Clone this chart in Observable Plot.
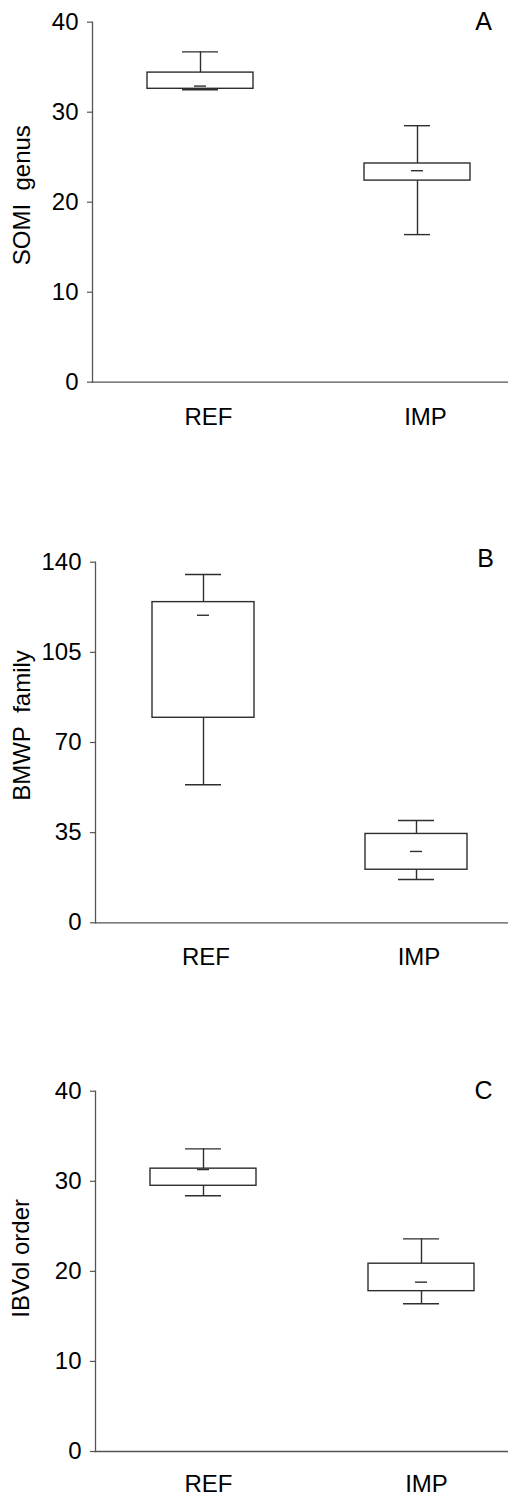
<!DOCTYPE html>
<html>
<head>
<meta charset="utf-8">
<script src="https://cdn.jsdelivr.net/npm/d3@7"></script>
<script src="https://cdn.jsdelivr.net/npm/@observablehq/plot@0.6"></script>
<style>
  html, body { margin: 0; padding: 0; background: #fff; }
  #wrap { position: relative; width: 508px; height: 1498px; overflow: hidden; }
  .panel { position: absolute; left: 0; }
  svg { font-family: "Liberation Sans", Arial, sans-serif; }
</style>
</head>
<body>
<div id="wrap"></div>
<script>
// ---- data ----
const groups = ["REF", "IMP"];

// Panel A: SOMI genus
const lowA  = [32.5, 16.4];
const q1A   = [32.6, 22.4];
const medA  = [32.9, 23.5];
const q3A   = [34.4, 24.3];
const highA = [36.7, 28.5];
const ticksA = [0, 10, 20, 30, 40];

// Panel B: BMWP family
const lowB  = [53.6, 16.8];
const q1B   = [79.6, 20.6];
const medB  = [119.4, 27.7];
const q3B   = [124.5, 34.5];
const highB = [135.2, 39.7];
const ticksB = [0, 35, 70, 105, 140];

// Panel C: IBVol order
const lowC  = [28.4, 16.4];
const q1C   = [29.5, 17.8];
const medC  = [31.3, 18.8];
const q3C   = [31.4, 20.85];
const highC = [33.6, 23.6];
const ticksC = [0, 10, 20, 30, 40];

const ink = "#2e2e2e";
const axisInk = "#555";

function table(low, q1, med, q3, high) {
  return groups.map((g, i) => ({g, low: low[i], q1: q1[i], med: med[i], q3: q3[i], high: high[i]}));
}

function panel(o) {
  const data = table(o.low, o.q1, o.med, o.q3, o.high);
  const capMarks = groups.flatMap((g, i) => [
    Plot.tickY(data.filter(d => d.g === g), {x: "g", y: "low", stroke: ink, strokeWidth: 1.4, insetLeft: o.capInset[i], insetRight: o.capInset[i]}),
    Plot.tickY(data.filter(d => d.g === g), {x: "g", y: "high", stroke: ink, strokeWidth: 1.4, insetLeft: o.capInset[i], insetRight: o.capInset[i]})
  ]);
  return Plot.plot({
    width: 508,
    height: o.height,
    marginTop: o.mt,
    marginBottom: o.mb,
    marginLeft: o.ml,
    marginRight: 0,
    style: {fontFamily: "'Liberation Sans', Arial, sans-serif", color: "#000", background: "#fff", overflow: "visible"},
    x: {type: "band", domain: groups, range: o.range, paddingInner: o.pi, paddingOuter: 0, align: 0.5, label: null},
    y: {domain: [o.ticks[0], o.ticks[o.ticks.length - 1]], label: null},
    marks: [
      Plot.axisY({ticks: o.ticks, tickSize: 5, tickPadding: 9, fontSize: 24, stroke: axisInk, strokeWidth: 1.2, label: null}),
      Plot.axisX({tickSize: 0, tickPadding: o.xpad, fontSize: 24, dx: o.xdx, label: null}),
      Plot.frame({anchor: "left", stroke: axisInk, strokeWidth: 1.3}),
      Plot.ruleY([o.ticks[0]], {stroke: axisInk, strokeWidth: 1.3}),
      Plot.ruleX(data, {x: "g", y1: "low", y2: "q1", stroke: ink, strokeWidth: 1.4}),
      Plot.ruleX(data, {x: "g", y1: "q3", y2: "high", stroke: ink, strokeWidth: 1.4}),
      ...capMarks,
      Plot.barY(data, {x: "g", y1: "q1", y2: "q3", fill: "#fff", stroke: ink, strokeWidth: 1.4}),
      Plot.tickY(data, {x: "g", y: "med", stroke: ink, strokeWidth: 1.4, insetLeft: o.medInset, insetRight: o.medInset}),
      Plot.text([o.ylabel], {frameAnchor: "left", rotate: -90, dx: o.ldx, dy: o.ldy, fontSize: 24, textAnchor: "middle", lineAnchor: "middle", fill: "#000"}),
      Plot.text([o.letter], {frameAnchor: "top-right", dx: o.letterDx, dy: o.letterDy, fontSize: 25, textAnchor: "middle", lineAnchor: "middle", fill: "#000"})
    ]
  });
}

const specs = [
  {top: 0, height: 440, mt: 21.7, mb: 58.3, ml: 92, range: [146, 470], pi: 0.512,
   low: lowA, q1: q1A, med: medA, q3: q3A, high: highA, ticks: ticksA,
   ylabel: "SOMI\u00a0\u00a0genus", ldx: -70, ldy: -7, letter: "A", letterDx: -25, letterDy: 0,
   xpad: 26, xdx: 8, capInset: [35, 40], medInset: 47},
  {top: 480, height: 500, mt: 81.7, mb: 57.7, ml: 95, range: [151.7, 467.7], pi: 0.519,
   low: lowB, q1: q1B, med: medB, q3: q3B, high: highB, ticks: ticksB,
   ylabel: "BMWP\u00a0\u00a0family", ldx: -73, ldy: -17, letter: "B", letterDx: -23, letterDy: -3,
   xpad: 25.5, xdx: 2.5, capInset: [33, 33], medInset: 45},
  {top: 1000, height: 498, mt: 90.7, mb: 47, ml: 95, range: [150, 474.3], pi: 0.513,
   low: lowC, q1: q1C, med: medC, q3: q3C, high: highC, ticks: ticksC,
   ylabel: "IBVol order", ldx: -74, ldy: -13, letter: "C", letterDx: -25, letterDy: 0,
   xpad: 23, xdx: 5, capInset: [35, 35], medInset: 47}
];

const wrap = document.getElementById("wrap");
for (const s of specs) {
  const div = document.createElement("div");
  div.className = "panel";
  div.style.top = s.top + "px";
  div.appendChild(panel(s));
  wrap.appendChild(div);
}
</script>
</body>
</html>
